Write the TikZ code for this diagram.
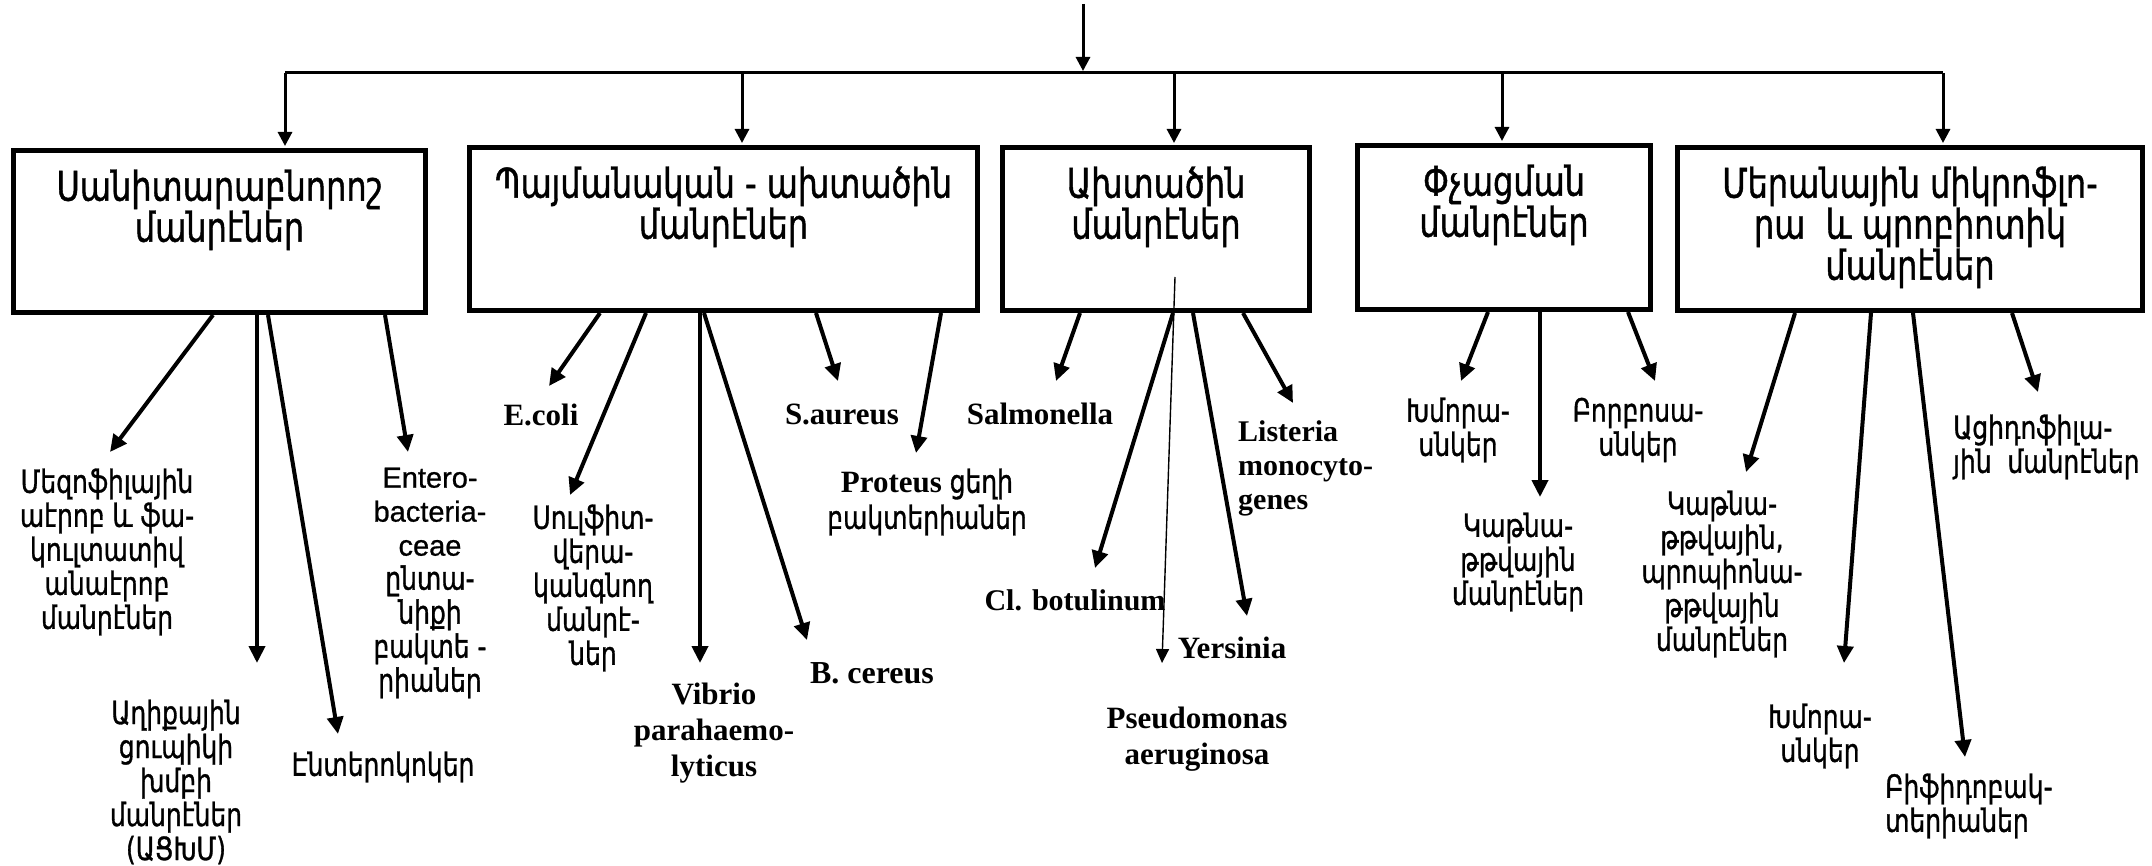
\documentclass[tikz,border=0pt]{standalone}
\usepackage{fontspec}
\usetikzlibrary{arrows.meta}
\newfontfamily\armfont[FakeStretch=0.78, FakeBold=1]{DejaVu Sans}
\newfontfamily\serifbold{Liberation Serif}
\newfontfamily\sanslat[FakeBold=0.8]{Liberation Sans}
\newcommand\armtxt[1]{{\armfont\mdseries\fontsize{32}{34}\selectfont #1}}
% strut fixing the first baseline of the box captions
\newcommand\capstrut{\rule{0pt}{34pt}}

\begin{document}
\begin{tikzpicture}[x=1pt,y=-1pt,
  catbox/.style={draw, line width=5pt, rectangle, inner sep=0pt},
  boxtext/.style={font=\armfont\fontsize{41}{41}\selectfont, align=center, inner sep=0pt, anchor=north},
  arm/.style={font=\armfont\fontsize{32}{34}\selectfont, align=center, inner sep=0pt},
  lat/.style={font=\serifbold\bfseries\fontsize{31}{36}\selectfont, align=center, inner sep=0pt},
  arr/.style={line width=4pt, -{Triangle[length=17pt,width=16pt]}},
  thinarr/.style={line width=1.4pt, -{Triangle[length=14pt,width=13pt]}},
  droparr/.style={line width=3pt, -{Triangle[length=14pt,width=14pt]}, shorten >=2pt},
  bus/.style={line width=3pt}
]
\fill[white] (0,0) rectangle (2152,866);
\useasboundingbox (0,0) rectangle (2152,866);

% category boxes
\node[catbox, minimum width=412pt, minimum height=162pt] (b1) at (219.5,231.5) {};
\node[catbox, minimum width=508pt, minimum height=163pt] (b2) at (723.5,229) {};
\node[catbox, minimum width=307pt, minimum height=163pt] (b3) at (1156,229) {};
\node[catbox, minimum width=293pt, minimum height=164pt] (b4) at (1504,227.5) {};
\node[catbox, minimum width=465pt, minimum height=163pt] (b5) at (1910,229) {};

\node[boxtext] (t1) at ([yshift=-18.5pt]b1.north) {\capstrut Սանիտարաբնորոշ\\մանրէներ};
\node[boxtext] (t2) at ([yshift=-18.5pt]b2.north) {\capstrut Պայմանական - ախտածին\\մանրէներ};
\node[boxtext] (t3) at ([yshift=-18.5pt]b3.north) {\capstrut Ախտածին\\մանրէներ};
\node[boxtext] (t4) at ([yshift=-18.5pt]b4.north) {\capstrut Փչացման\\մանրէներ};
\node[boxtext] (t5) at ([yshift=-18.5pt]b5.north) {\capstrut Մերանային միկրոֆլո-\\րա~~և պրոբիոտիկ\\մանրէներ};

% distribution bus from the source arrow
\coordinate (src) at (1083,4);
\coordinate (busL) at (285,73);
\coordinate (busR) at (1943,73);
\coordinate (d1) at ([xshift=65.5pt]b1.north);
\coordinate (d2) at ([xshift=18.5pt]b2.north);
\coordinate (d3) at ([xshift=18pt]b3.north);
\coordinate (d4) at ([xshift=-2pt]b4.north);
\coordinate (d5) at ([xshift=33pt]b5.north);
\draw[bus] (busL) -- (busR);
\draw[droparr] (src) -- (src |- busL);
\foreach \d in {d1,d2,d3,d4,d5} \draw[droparr] (\d |- busL) -- (\d);

% sanitary-indicative group
\node[arm] (m1) at (107,552) {Մեզոֆիլային\\աէրոբ և ֆա-\\կուլտատիվ\\անաէրոբ\\մանրէներ};
\node[arm] (m2) at (176,782) {Աղիքային\\ցուպիկի\\խմբի\\մանրէներ\\(ԱՑԽՄ)};
\node[arm] (m3) at (383,767) {Էնտերոկոկեր};
\node[arm] (m4) at (430,583) {{\sanslat\fontsize{29}{34}\selectfont Entero-}\\{\sanslat\fontsize{29}{34}\selectfont bacteria-}\\{\sanslat\fontsize{29}{34}\selectfont ceae}\\ընտա-\\նիքի\\բակտե -\\րիաներ};
\draw[arr] ([xshift=-6.5pt]b1.south) -- ([shift={(3,-100)}]m1.center);
\draw[arr] ([xshift=37.5pt]b1.south) -- ([shift={(81,-119)}]m2.center);
\draw[arr] ([xshift=48.5pt]b1.south) -- ([shift={(-45,-33)}]m3.center);
\draw[arr] ([xshift=165.5pt]b1.south) -- ([shift={(-22,-131)}]m4.center);

% conditionally pathogenic group
\node[lat] (e1) at (541,415) {E.coli};
\node[arm] (e2) at (593,588) {Սուլֆիտ-\\վերա-\\կանգնող\\մանրէ-\\ներ};
\node[lat] (e3) at (714,733) {Vibrio\\parahaemo-\\lyticus};
\node[lat, font=\serifbold\bfseries\fontsize{32}{36}\selectfont] (e4) at (872,673) {B. cereus};
\node[lat] (e5) at (842,414) {S.aureus};
\node[lat] (e6) at (927,502) {Proteus \armtxt{ցեղի}\\\armtxt{բակտերիաներ}};
\draw[arr] ([xshift=-123.5pt]b2.south) -- ([shift={(8,-29)}]e1.center);
\draw[arr] ([xshift=-77.5pt]b2.south) -- ([shift={(-23,-93)}]e2.center);
\draw[arr] ([xshift=-23.5pt]b2.south) -- ([shift={(-14,-70)}]e3.center);
\draw[arr] ([xshift=-19.5pt]b2.south) -- ([shift={(-65,-33)}]e4.center);
\draw[arr] ([xshift=92.5pt]b2.south) -- ([shift={(-4,-33)}]e5.center);
\draw[arr] ([xshift=217.5pt]b2.south) -- ([shift={(-11,-49)}]e6.center);

% pathogenic group
\node[lat] (s1) at (1040,414) {Salmonella};
\node[lat, font=\serifbold\bfseries\fontsize{30}{36}\selectfont] (s2) at (1075,600) {Cl. botulinum};
\node[lat] (s3) at (1197,739) {Pseudomonas\\aeruginosa};
\node[lat] (s4) at (1232,648) {Yersinia};
\node[lat, align=left, anchor=west, font=\serifbold\bfseries\fontsize{30}{34}\selectfont] (s5) at (1238,468) {Listeria\\monocyto-\\genes};
\draw[arr] ([xshift=-76pt]b3.south) -- ([shift={(16,-33)}]s1.center);
\draw[arr] ([xshift=17pt]b3.south) -- ([shift={(20,-32)}]s2.center);
\draw[thinarr] ([shift={(19,48)}]b3.center) -- ([shift={(-35,-76)}]s3.center);
\draw[arr] ([xshift=37pt]b3.south) -- ([shift={(15,-32)}]s4.center);
\draw[arr] ([xshift=87pt]b3.south) -- ([shift={(55,-65)}]s5.west);

% spoilage group
\node[arm] (f1) at (1458,430) {Խմորա-\\սնկեր};
\node[arm] (f2) at (1518,562) {Կաթնա-\\թթվային\\մանրէներ};
\node[arm] (f3) at (1638,430) {Բորբոսա-\\սնկեր};
\draw[arr] ([xshift=-16pt]b4.south) -- ([shift={(3,-49)}]f1.center);
\draw[arr] ([xshift=36pt]b4.south) -- ([shift={(22,-65)}]f2.center);
\draw[arr] ([xshift=124pt]b4.south) -- ([shift={(17,-49)}]f3.center);

% starter microflora and probiotic group
\node[arm] (p1) at (1722,574) {Կաթնա-\\թթվային,\\պրոպիոնա-\\թթվային\\մանրէներ};
\node[arm] (p2) at (1820,736) {Խմորա-\\սնկեր};
\node[arm, align=left, anchor=west] (p3) at (1885,806) {Բիֆիդոբակ-\\տերիաներ};
\node[arm, align=left, anchor=west] (p4) at (1953,447) {Ացիդոֆիլա-\\յին~~մանրէներ};
\draw[arr] ([xshift=-115pt]b5.south) -- ([shift={(24,-102)}]p1.center);
\draw[arr] ([xshift=-39pt]b5.south) -- ([shift={(24,-73)}]p2.center);
\draw[arr] ([xshift=3pt]b5.south) -- ([shift={(80,-49)}]p3.west);
\draw[arr] ([xshift=102pt]b5.south) -- ([shift={(85,-55)}]p4.west);
\end{tikzpicture}
\end{document}
